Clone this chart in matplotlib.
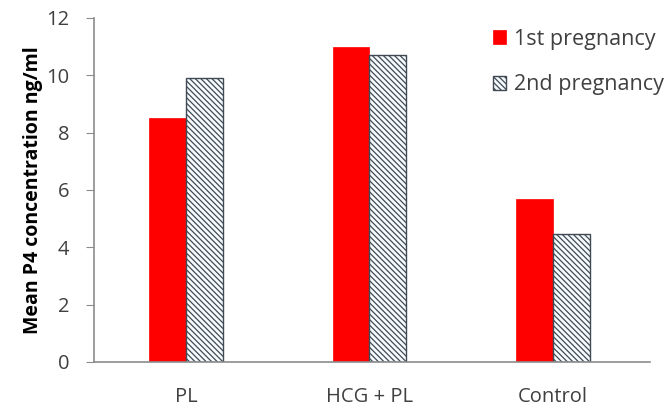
import matplotlib.pyplot as plt
import numpy as np

plt.rcParams['font.family'] = ['Open Sans', 'DejaVu Sans']
plt.rcParams['hatch.linewidth'] = 0.9
plt.rcParams['hatch.color'] = '#6a7f8e'

groups = ['PL', 'HCG + PL', 'Control']
first_preg = [8.5, 11.0, 5.7]
second_preg = [9.9, 10.7, 4.45]

fig = plt.figure(figsize=(6.67, 4.08), dpi=100)
ax = fig.add_axes([0.141, 0.113, 0.834, 0.843])

x = np.arange(len(groups))
w = 0.2
ax.bar(x - w / 2, first_preg, w, color='#ff0000', edgecolor='#ff0000', linewidth=0.5,
       label='1st pregnancy')
ax.bar(x + w / 2, second_preg, w, color='#f8fbfd', edgecolor='#3f4a55', hatch='\\' * 6,
       linewidth=1.0, label='2nd pregnancy')

ax.set_xlim(-0.5, 2.53)
ax.set_ylim(0, 12)
ax.set_yticks(range(0, 13, 2))
ax.set_xticks(x)
ax.set_xticklabels(groups, fontsize=14.5, color='#404040')
ax.tick_params(axis='y', labelsize=14.5, colors='#404040', length=6, color='#8c8c8c', pad=12)
ax.tick_params(axis='x', length=0, pad=18)

for s in ['top', 'right']:
    ax.spines[s].set_visible(False)
ax.spines['left'].set_color('#8c8c8c')
ax.spines['bottom'].set_color('#8c8c8c')
ax.spines['left'].set_linewidth(1.2)
ax.spines['bottom'].set_linewidth(1.2)

ax.set_ylabel('Mean P4 concentration ng/ml', fontsize=14, fontweight='bold', labelpad=2)

fig.legend(loc='upper left', bbox_to_anchor=(0.739, 0.93), frameon=False, fontsize=15.5,
           handlelength=0.6, handleheight=0.6, handletextpad=0.4, labelspacing=1.15,
           borderpad=0, borderaxespad=0, labelcolor='#404040')

plt.savefig('out.png', dpi=100)
